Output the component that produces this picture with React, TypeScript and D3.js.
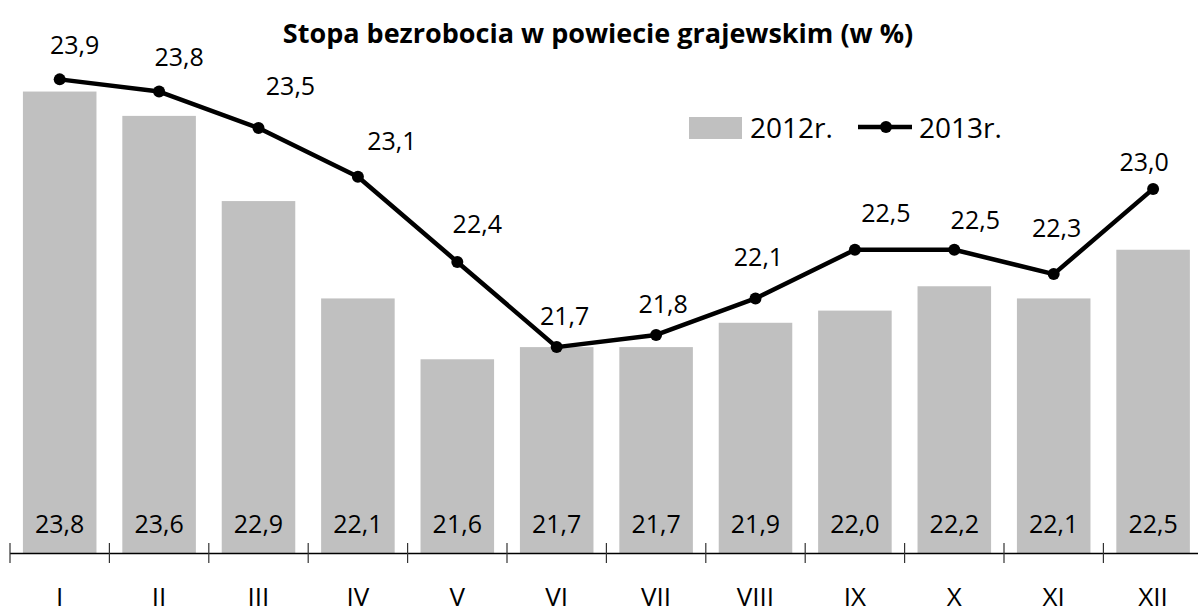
import React, { useEffect } from "react";
import * as d3 from "d3";

const months = ["I", "II", "III", "IV", "V", "VI", "VII", "VIII", "IX", "X", "XI", "XII"];
const values2012 = [23.8, 23.6, 22.9, 22.1, 21.6, 21.7, 21.7, 21.9, 22.0, 22.2, 22.1, 22.5];
const values2013 = [23.9, 23.8, 23.5, 23.1, 22.4, 21.7, 21.8, 22.1, 22.5, 22.5, 22.3, 23.0];
const seriesNames = ["2012r.", "2013r."];
const title = "Stopa bezrobocia w powiecie grajewskim (w %)";

// label placement offsets (layout only)
const lineLabelDx = [15, 20, 32, 34, 20, 8, 7, 3, 31, 21, 3, -9];
const lineLabelDy = [-34, -34.5, -42, -36, -38, -31, -31, -41, -37, -30, -46, -27];

const W = 1198;
const H = 610;
const FONT = "'Open Sans', 'Noto Sans', sans-serif";
const fmt = (v: number) => v.toFixed(1).replace(".", ",");

export default function App() {
  useEffect(() => {
    document.body.style.margin = "0";
  }, []);

  const x = d3
    .scaleBand<string>()
    .domain(months)
    .range([10, 10 + 12 * 99.4])
    .paddingInner(0.26)
    .paddingOuter(0.13);
  const y = d3.scaleLinear().domain([20, 24]).range([554, 554 - 4 * 121.7]);
  const step = x.step();
  const cx = (m: string) => (x(m) as number) + x.bandwidth() / 2;

  const line = d3
    .line<number>()
    .x((_, i) => cx(months[i]))
    .y((d) => y(d));

  const valFs = 25;
  const axisY = 553.5;

  return (
    <svg
      width={W}
      height={H}
      style={{ position: "absolute", left: 0, top: 0, background: "#fff" }}
      fontFamily={FONT}
    >
      <rect x={0} y={0} width={W} height={H} fill="#fff" />
      <text
        x={598}
        y={33}
        dy="0.36em"
        textAnchor="middle"
        fontWeight="bold"
        fontSize={27}
        fill="#000"
      >
        {title}
      </text>

      {/* bars */}
      {values2012.map((v, i) => (
        <rect
          key={"b" + i}
          x={x(months[i])}
          y={y(v)}
          width={x.bandwidth()}
          height={y(20) - y(v)}
          fill="#C0C0C0"
        />
      ))}
      {values2012.map((v, i) => (
        <text
          key={"bl" + i}
          x={cx(months[i])}
          y={533}
          textAnchor="middle"
          fontSize={valFs}
          fill="#000"
        >
          {fmt(v)}
        </text>
      ))}

      {/* axis */}
      <line x1={10} x2={W} y1={axisY} y2={axisY} stroke="#000" strokeWidth={1.5} />
      {d3.range(13).map((i) => (
        <line
          key={"t" + i}
          x1={10 + i * step}
          x2={10 + i * step}
          y1={543}
          y2={563}
          stroke="#333"
          strokeWidth={1.2}
        />
      ))}
      {months.map((m) => (
        <text
          key={"c" + m}
          x={cx(m)}
          y={597}
          dy="0.36em"
          textAnchor="middle"
          fontSize={26}
          fill="#000"
        >
          {m}
        </text>
      ))}

      {/* line */}
      <path d={line(values2013) || ""} fill="none" stroke="#000" strokeWidth={4.5} strokeLinejoin="round" />
      {values2013.map((v, i) => (
        <circle key={"p" + i} cx={cx(months[i])} cy={y(v)} r={6} fill="#000" />
      ))}
      {values2013.map((v, i) => (
        <text
          key={"pl" + i}
          x={cx(months[i]) + lineLabelDx[i]}
          y={y(v) + lineLabelDy[i]}
          dy="0.36em"
          textAnchor="middle"
          fontSize={valFs}
          fill="#000"
        >
          {fmt(v)}
        </text>
      ))}

      {/* legend */}
      <rect x={689} y={117} width={53} height={22} fill="#C0C0C0" />
      <text x={750} y={128} dy="0.36em" fontSize={28} fill="#000">
        {seriesNames[0]}
      </text>
      <line x1={858} x2={912} y1={127} y2={127} stroke="#000" strokeWidth={4.5} />
      <circle cx={886} cy={127} r={6} fill="#000" />
      <text x={919} y={128} dy="0.36em" fontSize={28} fill="#000">
        {seriesNames[1]}
      </text>
    </svg>
  );
}
